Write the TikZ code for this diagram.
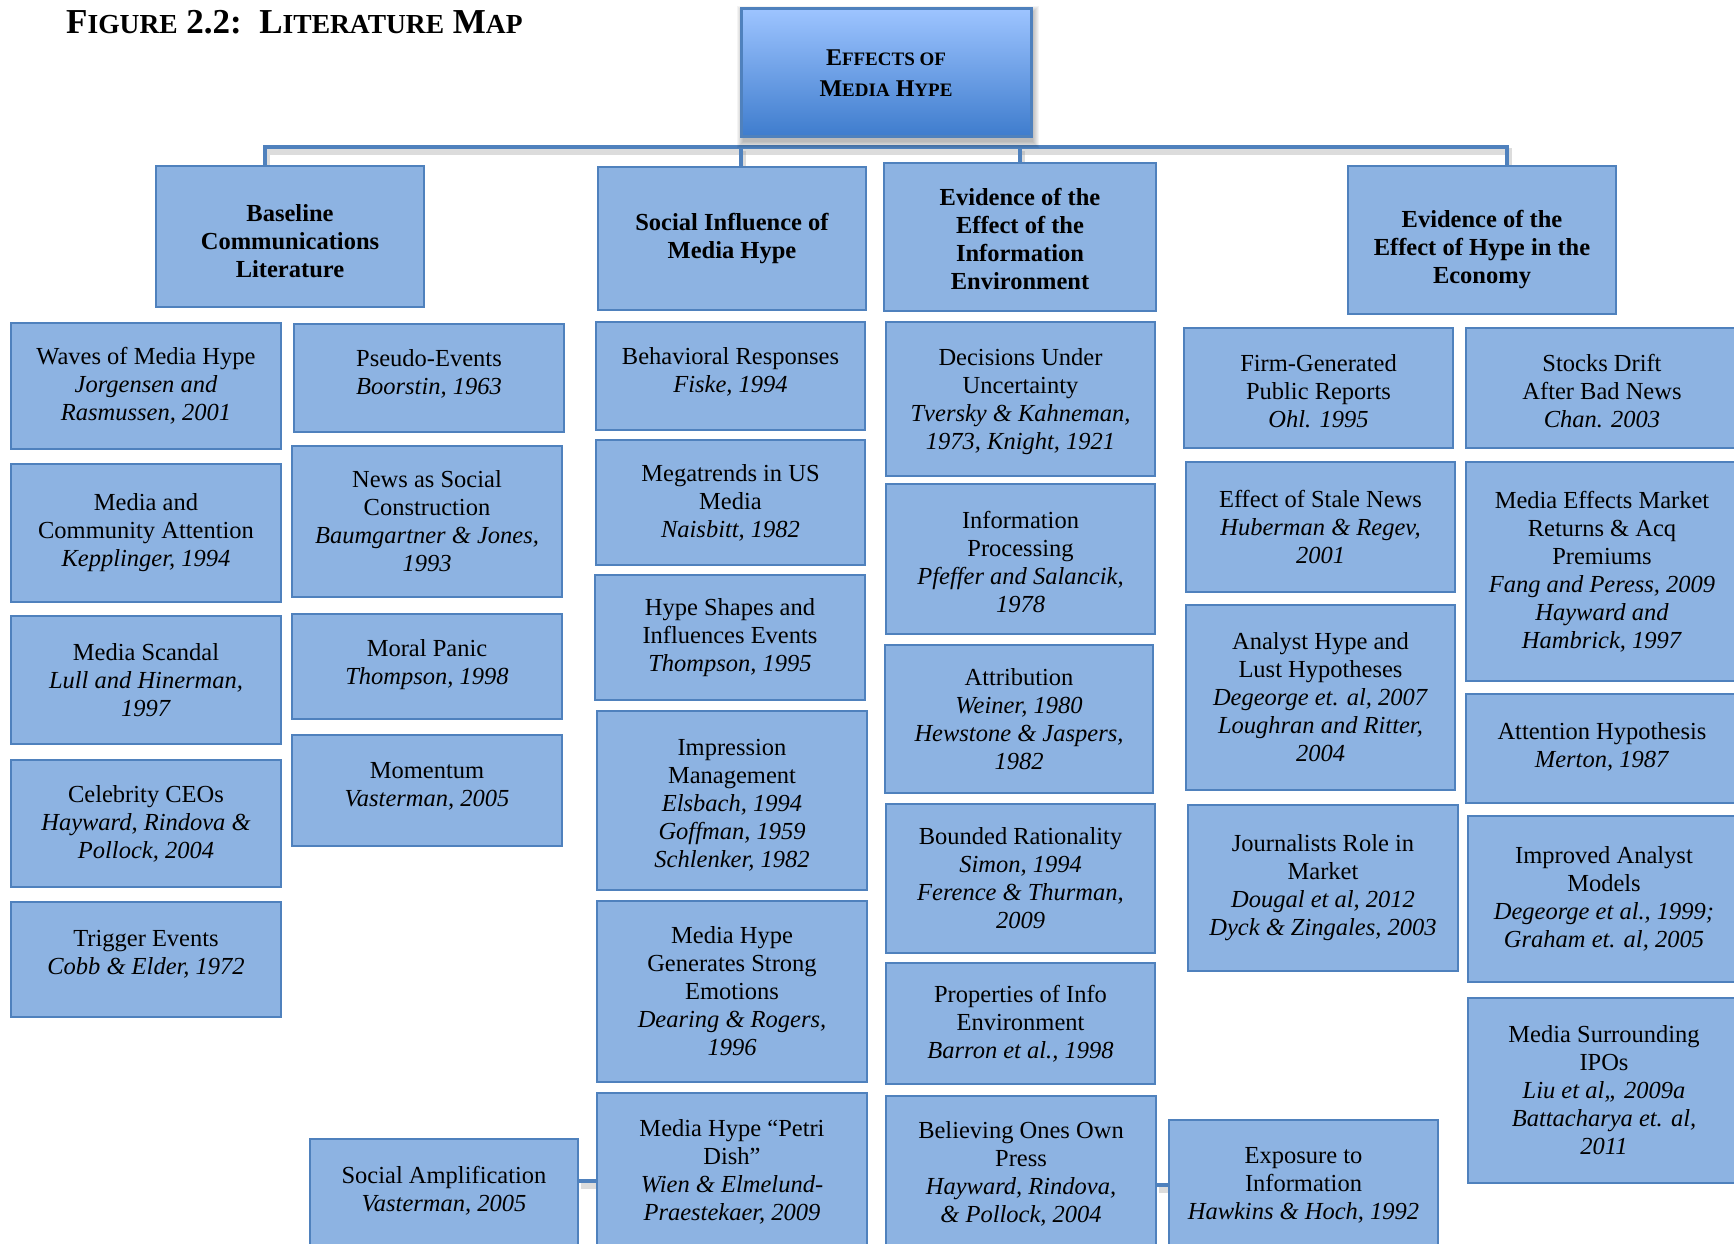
\documentclass[tikz,border=0pt]{standalone}
\usepackage{fontspec}
\setmainfont{Liberation Serif}

\pgfdeclarelayer{back}
\pgfsetlayers{back,main}

\definecolor{cellfill}{RGB}{141,179,226}
\definecolor{bord}{RGB}{79,129,189}
\definecolor{topA}{RGB}{157,196,255}
\definecolor{topB}{RGB}{62,124,205}

% small capitals built from two sizes of capitals
\newcommand\tsc[1]{{\fontsize{27.5}{30}\selectfont #1}}
\newcommand\hsc[1]{{\fontsize{19}{31}\selectfont #1}}
% taller first line, pushes a text block a little down in its box
\newcommand\push[1]{\rule{0pt}{#1pt}}

% box by its corners: name, x1, y1, x2, y2, text
\newcommand\bx[6]{\node[cell, minimum width={#4-#2}, minimum height={#5-#3}]
  (#1) at ({(#2+#4)/2},{(#3+#5)/2}) {#6};}
\newcommand\hbx[6]{\node[cell, font=\fontsize{24.5}{28}\selectfont\bfseries,
  minimum width={#4-#2}, minimum height={#5-#3}]
  (#1) at ({(#2+#4)/2},{(#3+#5)/2}) {#6};}

\tikzset{
  cell/.style={draw=bord, fill=cellfill, line width=2.2pt, inner sep=0pt,
    align=center, text=black, font=\fontsize{24.5}{28}\selectfont},
  conn/.style={draw=bord, line width=4.5pt},
  connshade/.style={draw=black!45, opacity=.3, line width=7pt,
    transform canvas={xshift=1.5pt,yshift=-4pt}},
}

\begin{document}
\begin{tikzpicture}[x=1pt,y=-1pt]
\useasboundingbox (0,0) rectangle (1734,1244);

% title
\node[anchor=base west, inner sep=0pt, font=\fontsize{35}{40}\selectfont\bfseries]
  (title) at (66,34) {F\tsc{IGURE} 2.2:\ \ L\tsc{ITERATURE} M\tsc{AP}};

% bus and bottom joints
\coordinate (dL) at (265,147);
\coordinate (dS) at (741,147);
\coordinate (dE) at (1020,147);
\coordinate (dR) at (1507,147);
\coordinate (j1) at (0,1181);
\coordinate (j2) at (0,1185);

% headers
\hbx{base}{156}{166}{424}{307}{\push{27}Baseline\\Communications\\Literature}
\hbx{soc}{598}{167}{866}{310}{Social Influence of\\Media Hype}
\hbx{evi}{884}{163}{1156}{311}{\push{21}Evidence of the\\Effect of the\\Information\\Environment}
\hbx{econ}{1348}{166}{1616}{314}{\push{36}Evidence of the\\Effect of Hype in the\\Economy}

% column A
\bx{wav}{11}{323}{281}{449}{Waves of Media Hype\\\textit{Jorgensen and}\\\textit{Rasmussen, 2001}}
\bx{mca}{11}{464}{281}{602}{Media and\\Community Attention\\\textit{Kepplinger, 1994}}
\bx{msc}{11}{616}{281}{744}{Media Scandal\\\textit{Lull and Hinerman,}\\\textit{1997}}
\bx{ceo}{11}{760}{281}{887}{Celebrity CEOs\\\textit{Hayward, Rindova \&}\\\textit{Pollock, 2004}}
\bx{trg}{11}{902}{281}{1017}{Trigger Events\\\textit{Cobb \& Elder, 1972}\rule[-14pt]{0pt}{0pt}}

% column B
\bx{pse}{294}{324}{564}{432}{Pseudo-Events\\\textit{Boorstin, 1963}\rule[-12pt]{0pt}{0pt}}
\bx{nsc}{292}{446}{562}{597}{News as Social\\Construction\\\textit{Baumgartner \& Jones,}\\\textit{1993}}
\bx{mpa}{292}{614}{562}{719}{Moral Panic\\\textit{Thompson, 1998}\rule[-10pt]{0pt}{0pt}}
\bx{mom}{292}{735}{562}{846}{Momentum\\\textit{Vasterman, 2005}\rule[-13pt]{0pt}{0pt}}
\bx{samp}{310}{1139}{578}{1252}{Social Amplification\\\textit{Vasterman, 2005}\rule[-13pt]{0pt}{0pt}}

% column C
\bx{beh}{596}{322}{865}{430}{Behavioral Responses\\\textit{Fiske, 1994}\rule[-13pt]{0pt}{0pt}}
\bx{meg}{596}{440}{865}{565}{Megatrends in US\\Media\\\textit{Naisbitt, 1982}}
\bx{hsh}{595}{575}{865}{700}{Hype Shapes and\\Influences Events\\\textit{Thompson, 1995}}
\bx{imp}{597}{711}{867}{890}{\push{25}Impression\\Management\\\textit{Elsbach, 1994}\\\textit{Goffman, 1959}\\\textit{Schlenker, 1982}}
\bx{gen}{597}{901}{867}{1082}{Media Hype\\Generates Strong\\Emotions\\\textit{Dearing \& Rogers,}\\\textit{1996}}
\bx{pet}{597}{1093}{867}{1250}{Media Hype “Petri\\Dish”\\\textit{Wien \& Elmelund-}\\\textit{Praestekaer, 2009}}

% column D
\bx{dec}{886}{322}{1155}{476}{\push{23}Decisions Under\\Uncertainty\\\textit{Tversky \& Kahneman,}\\\textit{1973, Knight, 1921}}
\bx{ipr}{886}{484}{1155}{634}{\push{23}Information\\Processing\\\textit{Pfeffer and Salancik,}\\\textit{1978}}
\bx{att}{885}{645}{1153}{793}{Attribution\\\textit{Weiner, 1980}\\\textit{Hewstone \& Jaspers,}\\\textit{1982}}
\bx{bnd}{886}{804}{1155}{953}{Bounded Rationality\\\textit{Simon, 1994}\\\textit{Ference \& Thurman,}\\\textit{2009}}
\bx{prp}{886}{963}{1155}{1084}{Properties of Info\\Environment\\\textit{Barron et al., 1998}}
\bx{bel}{886}{1096}{1156}{1252}{Believing Ones Own\\Press\\\textit{Hayward, Rindova,}\\\textit{\& Pollock, 2004}}

% column E
\bx{frm}{1184}{328}{1453}{448}{\push{23}Firm-Generated\\Public Reports\\\textit{Ohl. 1995}}
\bx{stl}{1186}{462}{1455}{592}{Effect of Stale News\\\textit{Huberman \& Regev,}\\\textit{2001}}
\bx{anl}{1186}{605}{1455}{790}{Analyst Hype and\\Lust Hypotheses\\\textit{Degeorge et. al, 2007}\\\textit{Loughran and Ritter,}\\\textit{2004}}
\bx{jrn}{1188}{805}{1458}{971}{Journalists Role in\\Market\\\textit{Dougal et al, 2012}\\\textit{Dyck \& Zingales, 2003}}
\bx{exp}{1169}{1120}{1438}{1250}{Exposure to\\Information\\\textit{Hawkins \& Hoch, 1992}}

% column F
\bx{stk}{1466}{328}{1738}{448}{\push{23}Stocks Drift\\After Bad News\\\textit{Chan. 2003}}
\bx{mem}{1466}{462}{1738}{681}{Media Effects Market\\Returns \& Acq\\Premiums\\\textit{Fang and Peress, 2009}\\\textit{Hayward and}\\\textit{Hambrick, 1997}}
\bx{ath}{1466}{694}{1738}{803}{Attention Hypothesis\\\textit{Merton, 1987}\rule[-8pt]{0pt}{0pt}}
\bx{ian}{1468}{816}{1740}{982}{Improved Analyst\\Models\\\textit{Degeorge et al., 1999;}\\\textit{Graham et. al, 2005}}
\bx{ipo}{1468}{998}{1740}{1183}{Media Surrounding\\IPOs\\\textit{Liu et al,, 2009a}\\\textit{Battacharya et. al,}\\\textit{2011}}

% connectors, beneath the boxes
\begin{pgfonlayer}{back}
  \path[connshade] (base.north -| dL) -- (dL) -- (dR) -- (econ.north -| dR);
  \path[connshade] (dS) -- (soc.north -| dS);
  \path[connshade] (dE) -- (evi.north -| dE);
  \path[connshade] (samp.east |- j1) -- (pet.west |- j1);
  \path[connshade] (bel.east |- j2) -- (exp.west |- j2);
  \path[conn] (base.north -| dL) -- (dL) -- (dR) -- (econ.north -| dR);
  \path[conn] (dS) -- (soc.north -| dS);
  \path[conn] (dE) -- (evi.north -| dE);
  \path[conn] (samp.east |- j1) -- (pet.west |- j1);
  \path[conn] (bel.east |- j2) -- (exp.west |- j2);
\end{pgfonlayer}

% central topic with a soft shadow
\coordinate (tNW) at (741,9);
\coordinate (tSE) at (1031,137);
\foreach \r in {0,1,...,6}
  \fill[black, opacity=0.045]
    ([xshift={2pt-\r pt}, yshift={\r pt-3pt}]tNW) rectangle
    ([xshift={2pt+\r pt}, yshift={-5pt-\r pt}]tSE);
\node[draw=bord, line width=3pt, top color=topA, bottom color=topB,
  minimum width=290, minimum height=128, inner sep=0pt, align=center,
  font=\fontsize{24}{31}\selectfont\bfseries]
  (top) at (886,73) {E\hsc{FFECTS OF}\\M\hsc{EDIA} H\hsc{YPE}};
\end{tikzpicture}
\end{document}
